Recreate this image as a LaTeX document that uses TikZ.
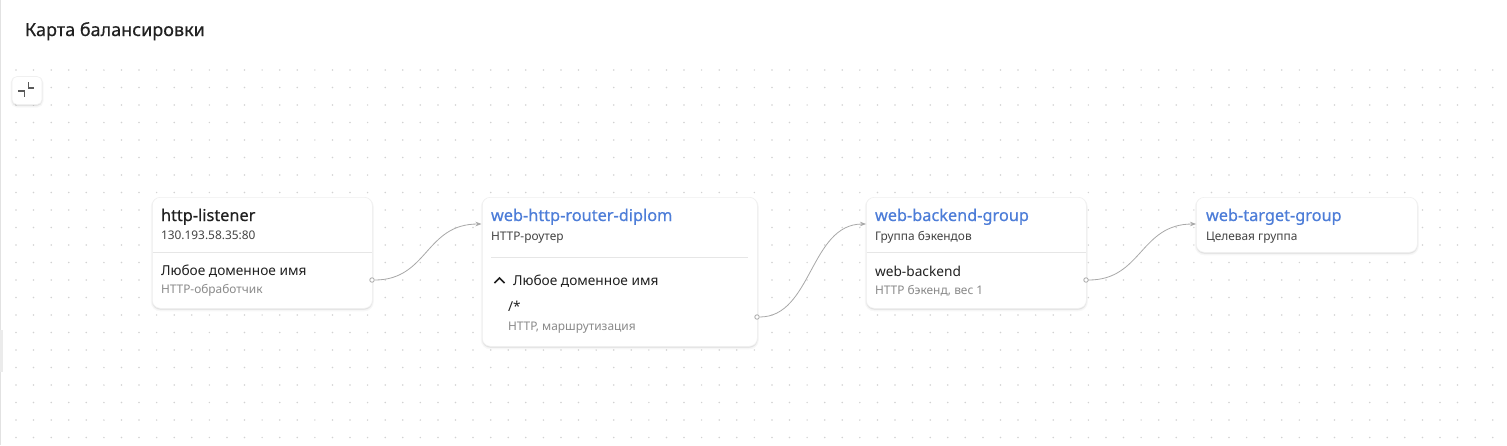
\documentclass[tikz,border=0pt]{standalone}
\usepackage{fontspec}
\setmainfont{Noto Sans}
\newfontfamily\medfont{Noto Sans}[FakeBold=0.5]
\usetikzlibrary{arrows.meta}
\definecolor{ink}{HTML}{212121}
\definecolor{subink}{HTML}{444444}
\definecolor{muted}{HTML}{8A8A8A}
\definecolor{linkblue}{HTML}{4D7DD8}
\definecolor{dotc}{HTML}{D2D2D2}
\definecolor{rulec}{HTML}{E6E6E6}
\definecolor{connc}{HTML}{A8A8A8}
\definecolor{edgec}{HTML}{E2E2E2}
\definecolor{cardedge}{HTML}{F0F0F0}
\tikzset{
  softshadow/.style={preaction={fill=black, fill opacity=0.035, transform canvas={yshift=-1.5pt}, draw=black, draw opacity=0.03, line width=3pt},
                     preaction={fill=black, fill opacity=0.03, draw=black, draw opacity=0.025, line width=1.5pt, transform canvas={yshift=-1pt}}},
  card/.style={draw=cardedge, line width=0.6pt, fill=white, rounded corners=8pt, inner sep=0pt,
    anchor=north west, softshadow},
  btn/.style={draw=cardedge, line width=0.6pt, fill=white, rounded corners=5pt, inner sep=0pt,
    minimum width=30pt, minimum height=28pt, softshadow},
  txt/.style={anchor=base west, inner sep=0pt, outer sep=0pt},
  heading/.style={txt, text=ink, font=\medfont\fontsize{18}{22}\selectfont},
  ctitle/.style={txt, text=ink, font=\medfont\fontsize{16.3}{19}\selectfont},
  btitle/.style={txt, text=linkblue, font=\medfont\fontsize{16.3}{19}\selectfont},
  primary/.style={txt, text=ink, font=\fontsize{13.7}{16}\selectfont},
  secondary/.style={txt, text=subink, font=\fontsize{11.9}{14}\selectfont},
  faint/.style={txt, text=muted, font=\fontsize{11.9}{14}\selectfont},
  divider/.style={draw=rulec, line width=1pt},
  conn/.style={draw=connc, line width=0.8pt, -{Stealth[length=6pt,width=4.5pt]}},
  port/.style={circle, draw=connc, fill=white, line width=0.8pt, minimum size=4.5pt, inner sep=0pt},
  iconline/.style={draw=black!65, line width=1.2pt},
}
\begin{document}
\begin{tikzpicture}[x=1pt,y=-1pt]
\useasboundingbox (0,0) rectangle (1507,445);
\fill[white] (0,0) rectangle (1507,445);
% left edge
\draw[edgec, line width=1pt] (0.5,0) -- (0.5,445);
\fill[black!8] (0,330) rectangle (2.5,372);
% dot grid
\foreach \i in {0,...,84}{
  \foreach \j in {0,...,21}{
    \fill[dotc] ({16+17.58*\i},{70+17.5*\j}) circle (0.85pt);
  }
}
% heading
\node[heading] (head) at (25,36) {Карта балансировки};
% collapse button
\node[btn] (btn) at (27,90.5) {};
\draw[iconline] (28.3,82) -- (28.3,88) -- (33.8,88);
\draw[iconline] (18.3,91) -- (24.3,91) -- (24.3,97);

% cards
\node[card, minimum width=220pt, minimum height=111pt] (n1) at (152,197) {};
\node[card, minimum width=275pt, minimum height=149pt] (n2) at (482,197) {};
\node[card, minimum width=220pt, minimum height=111pt] (n3) at (866,197) {};
\node[card, minimum width=221pt, minimum height=55pt] (n4) at (1196,197) {};

% card 1
\node[ctitle] (n1t) at (161,221) {http-listener};
\node[secondary] (n1s) at (161,239.5) {130.193.58.35:80};
\draw[divider] (152.5,252.5) -- (371.5,252.5);
\node[primary] (n1a) at (161,275) {Любое доменное имя};
\node[faint] (n1b) at (161,293) {HTTP-обработчик};

% card 2
\node[btitle] (n2t) at (491,221) {web-http-router-diplom};
\node[secondary] (n2s) at (491,240) {HTTP-роутер};
\draw[divider] (491,257.5) -- (748,257.5);
\draw[draw=ink, line width=1.5pt] (494.5,283) -- (499.5,278) -- (504.5,283);
\node[primary] (n2a) at (513,285) {Любое доменное имя};
\node[primary] (n2b) at (508,311) {/*};
\node[faint] (n2c) at (508,330) {HTTP, маршрутизация};

% card 3
\node[btitle] (n3t) at (875,221) {web-backend-group};
\node[secondary] (n3s) at (875,240) {Группа бэкендов};
\draw[divider] (866.5,252.5) -- (1085.5,252.5);
\node[primary] (n3a) at (875,276) {web-backend};
\node[faint] (n3b) at (875,294) {HTTP бэкенд, вес 1};

% card 4
\node[btitle] (n4t) at (1206,221) {web-target-group};
\node[secondary] (n4s) at (1206,240) {Целевая группа};

% connectors
\node[port] (p1) at (372,280) {};
\node[port] (p2) at (757,317) {};
\node[port] (p3) at (1086,280) {};
\coordinate (t2) at (481.5,224);
\coordinate (t3) at (866,224);
\coordinate (t4) at (1196,224);
\draw[conn] (p1) .. controls (428,280) and (425,224) .. (t2);
\draw[conn] (p2) .. controls (812,317) and (810,224) .. (t3);
\draw[conn] (p3) .. controls (1142,280) and (1140,224) .. (t4);
\end{tikzpicture}
\end{document}
